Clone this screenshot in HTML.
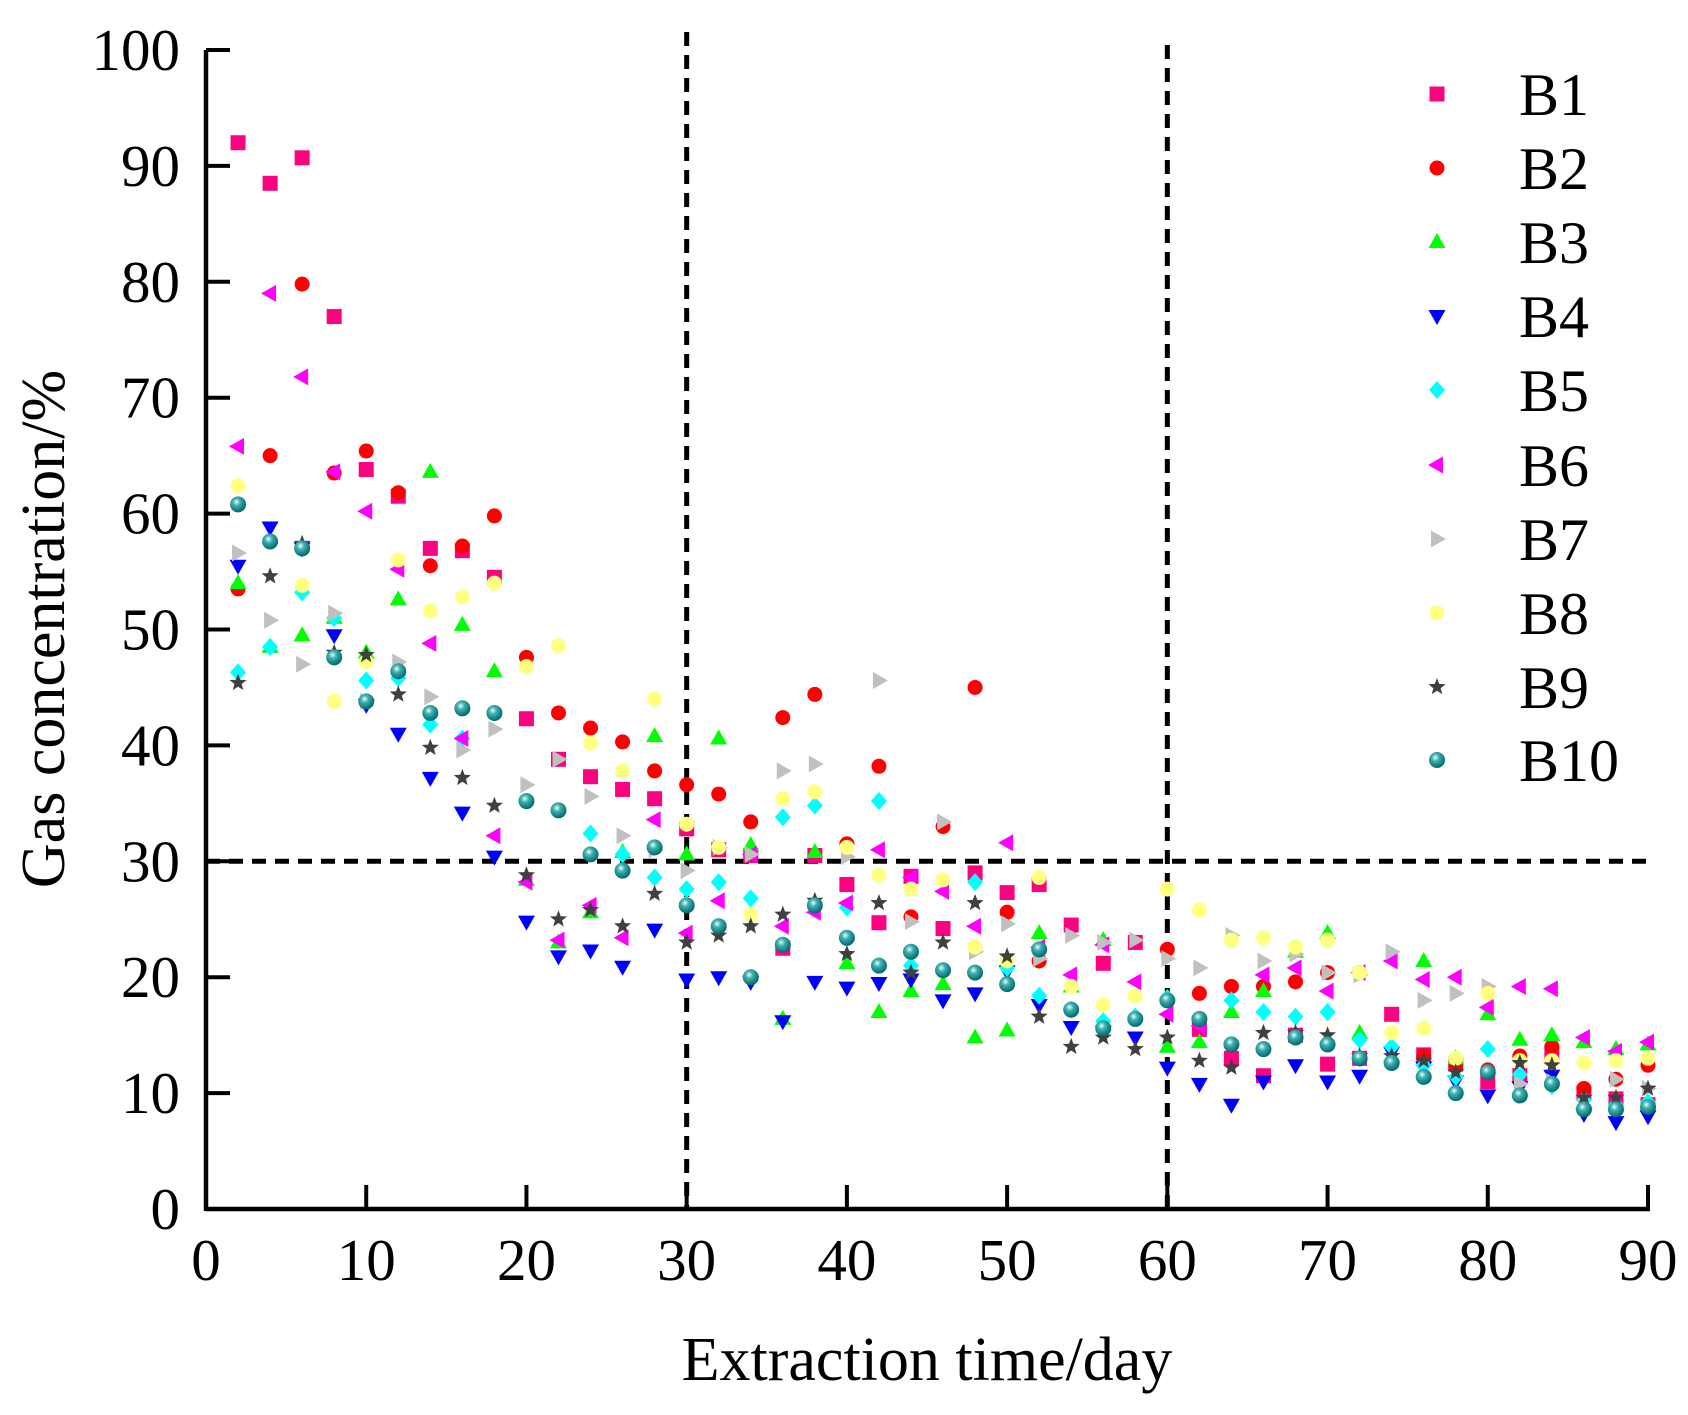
<!DOCTYPE html>
<html><head><meta charset="utf-8"><style>
html,body{margin:0;padding:0;background:#fff}
svg{display:block}
text{font-family:"Liberation Serif",serif;fill:#000}
</style></head><body>
<svg id="s" width="1688" height="1415" viewBox="0 0 1688 1415" xmlns="http://www.w3.org/2000/svg">
<defs>
<radialGradient id="tg" cx="0.4" cy="0.35" r="0.65">
<stop offset="0" stop-color="#e8ffff"/><stop offset="0.35" stop-color="#40b0b0"/><stop offset="1" stop-color="#006868"/>
</radialGradient>
</defs>
<g id="plot"></g>
</svg>
<script>
const X0=206,X1=1648,Y0=1209,Y1=50;
const fx=v=>X0+(X1-X0)*v/90, fy=v=>Y0+(Y1-Y0)*v/100;
const NS="http://www.w3.org/2000/svg";
const g=document.getElementById('plot');
function el(t,a,txt){const e=document.createElementNS(NS,t);for(const k in a)e.setAttribute(k,a[k]);if(txt!==undefined)e.textContent=txt;g.appendChild(e);return e;}
const D={
B1:[92,88.5,90.7,77,63.8,61.5,57,56.8,54.5,42.3,38.8,37.3,36.2,35.4,32.8,31,30.5,22.5,30.5,28,24.7,28.7,24.2,29,27.3,28,24.5,21.2,23,null,15.5,13,11.5,15,12.5,13,16.8,13.3,12.5,11,11.5,13.5,10,9.5,9],
B2:[53.5,65,79.8,63.5,65.4,61.8,55.5,57.2,59.8,47.6,42.8,41.5,40.3,37.8,36.6,35.8,33.4,42.4,44.4,31.5,38.2,25.2,33,45,25.6,21.4,null,null,null,22.4,18.6,19.2,19.2,19.6,20.4,20.4,null,13.2,12.4,12,13.2,14,10.4,11.2,12.4],
B3:[54,48.5,49.5,51,48,52.6,63.6,50.4,46.4,28.4,23,25.6,30.8,40.8,30.6,40.6,31.4,16.4,30.8,21.2,17,18.8,19.4,14.8,15.4,23.8,19.2,23.2,null,14,14.4,17,18.8,22.2,23.8,15.2,13.2,21.4,13,16.8,14.6,15,14.4,13.8,14.2],
B4:[55.5,58.8,57,49.5,43.5,41,37.2,34.2,30.4,24.8,21.8,22.3,20.9,24.1,19.8,20,19.6,16.2,19.6,19.1,19.5,19.8,18,18.6,20.5,17.6,15.7,15.3,14.8,12.2,10.8,9,11,12.4,11,11.5,13.5,12.2,11,9.8,10.5,11.5,8.2,7.5,8],
B5:[46.3,48.5,53.2,51,45.6,45.8,41.8,40.6,null,null,null,32.4,30.6,28.6,27.6,28.2,26.8,33.8,34.8,26,35.2,21,null,28.2,20.8,18.4,17.2,16.2,16.6,18.2,16.2,18,17,16.6,17,14.6,14,12.4,11.4,13.8,11.6,10.6,9.4,9,9.2],
B6:[65.8,79,71.8,63.6,60.2,55.2,48.8,40.6,32.2,28.2,23.2,26.2,23.4,33.6,23.8,26.6,30.6,24.4,25.6,26.4,31,28.6,27.4,24.4,31.6,22.6,20.2,22.8,19.6,16.8,15.8,null,20.2,20.8,18.8,20.4,21.4,19.8,20,17.4,19.2,19,14.8,13.6,14.4],
B7:[56.6,50.8,47,51.4,43.8,47.2,44.2,39.6,41.4,36.6,38.8,35.6,32.2,31,29.2,31.2,30.6,37.8,38.4,30.4,45.6,24.8,33.4,22.2,24.6,21.6,23.6,23,23.2,21.6,20.8,23.6,21.4,22,20.4,20.2,22.2,18,18.6,19.2,10.8,11,8.8,11.2,10.4],
B8:[62.4,null,53.8,43.8,47.2,56,51.6,52.8,54,46.8,48.6,40.2,37.8,44,33.2,31.2,25.4,35.4,36,31.2,28.8,27.6,28.4,22.6,21.4,28.6,19.2,17.6,18.4,27.6,25.8,23.2,23.4,22.6,23.2,20.4,15.2,15.6,13,18.6,12.8,12.8,12.6,12.8,13],
B9:[45.4,54.6,57.4,48,47.8,44.4,39.8,37.2,34.8,28.8,25,25.8,24.4,27.2,23,23.6,24.4,25.4,26.6,22,26.4,20.4,23,26.4,21.8,16.6,14,14.8,13.8,14.8,12.8,12.2,15.2,15.2,15,13.2,13.2,12.8,11.8,11.8,12.6,12.4,9.6,9.6,10.4],
B10:[60.8,57.6,57,47.6,43.8,46.4,42.8,43.2,42.8,35.2,34.4,30.6,29.2,31.2,26.2,24.4,20,22.8,26.2,23.4,21,22.2,20.6,20.4,19.4,22.4,17.2,15.6,16.4,18,16.4,14.2,13.8,14.8,14.2,13,12.6,11.4,10,11.8,9.8,10.8,8.6,8.6,8.8]};
function star(x,y,R,r){let p=[];for(let i=0;i<10;i++){const a=-Math.PI/2+i*Math.PI/5,rr=i%2?r:R;p.push((x+rr*Math.cos(a)).toFixed(1)+','+(y+rr*Math.sin(a)).toFixed(1));}return p.join(' ');}
function mk(name,x,y){
 const P=(a)=>a.map(([dx,dy])=>(x+dx)+','+(y+dy)).join(' ');
 switch(name){
 case 'B1':el('rect',{x:x-7.5,y:y-7.5,width:15,height:15,fill:'#ff0080'});break;
 case 'B2':el('circle',{cx:x,cy:y,r:7.5,fill:'#ff0000'});break;
 case 'B3':el('polygon',{points:P([[0,-9],[8.5,6],[-8.5,6]]),fill:'#00ff00'});break;
 case 'B4':el('polygon',{points:P([[0,9],[8.5,-6],[-8.5,-6]]),fill:'#0000ff'});break;
 case 'B5':el('polygon',{points:P([[0,-9],[8,0],[0,9],[-8,0]]),fill:'#00ffff'});break;
 case 'B6':el('polygon',{points:P([[-9,0],[6,-8.5],[6,8.5]]),fill:'#ff00ff'});break;
 case 'B7':el('polygon',{points:P([[9,0],[-6,-8.5],[-6,8.5]]),fill:'#c0c0c0'});break;
 case 'B8':el('circle',{cx:x,cy:y,r:7.5,fill:'#ffff80'});break;
 case 'B9':el('polygon',{points:star(x,y,9,3.8),fill:'#404040'});break;
 case 'B10':el('circle',{cx:x,cy:y,r:8,fill:'url(#tg)'});break;
 }
}
el('line',{x1:X0,y1:Y0,x2:X1+2,y2:Y0,stroke:'#000','stroke-width':4.5});
el('line',{x1:X0,y1:Y1,x2:X0,y2:Y0+2,stroke:'#000','stroke-width':4.5});
for(let i=0;i<=10;i++){const y=fy(i*10);el('line',{x1:X0,y1:y,x2:X0+24,y2:y,stroke:'#000','stroke-width':4});
 el('text',{x:180,y:y+20,'font-size':59,'text-anchor':'end'},String(i*10));}
for(let i=0;i<=9;i++){const x=fx(i*10);if(i>0)el('line',{x1:x,y1:Y0,x2:x,y2:Y0-24,stroke:'#000','stroke-width':4});
 el('text',{x:x,y:1280,'font-size':59,'text-anchor':'middle'},String(i*10));}
const da={stroke:'#000','stroke-width':5,'stroke-dasharray':'14,9',fill:'none'};
el('line',Object.assign({x1:fx(30),y1:32,x2:fx(30),y2:Y0},da));
el('line',Object.assign({x1:fx(60),y1:45,x2:fx(60),y2:Y0},da));
el('line',Object.assign({x1:X0,y1:fy(30),x2:X1,y2:fy(30)},da));
const names=Object.keys(D);
names.forEach(n=>D[n].forEach((v,i)=>{if(v!==null)mk(n,fx(2+2*i),fy(v));}));
const ly=[94,168,242,316,390,465,539,613,687,760];
names.forEach((n,i)=>{mk(n,1437,ly[i]);el('text',{x:1519,y:ly[i]+21,'font-size':60},n);});
el('text',{x:927,y:1380,'font-size':62,'text-anchor':'middle'},'Extraction time/day');
el('text',{x:0,y:0,'font-size':62,'text-anchor':'middle',transform:'translate(64,629) rotate(-90)'},'Gas concentration/%');
</script>
</body></html>
